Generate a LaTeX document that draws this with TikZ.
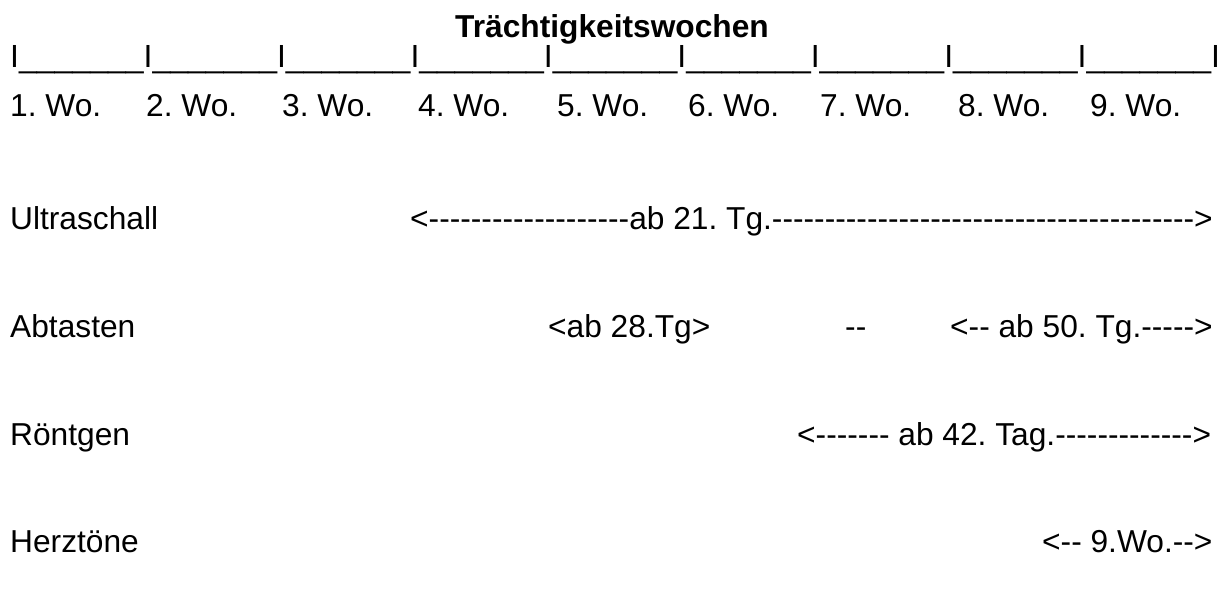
\documentclass[tikz,border=0pt]{standalone}
\usepackage{fontspec}
\setmainfont{Liberation Sans}
\begin{document}
\frenchspacing
\begin{tikzpicture}[x=1pt,y=-1pt,
  txt/.style={inner sep=0pt,anchor=base west,font=\fontsize{31.7}{38}\selectfont},
  ttl/.style={inner sep=0pt,anchor=base,font=\fontsize{31.7}{38}\selectfont\bfseries}]
\useasboundingbox (0,0) rectangle (1224,601);
% title
\node[ttl] (title) at (612,38) {Trächtigkeitswochen};
% week scale
\node[txt,font=\fontsize{32}{38}\selectfont] (scale) at (10,68) {I\_\_\_\_\_\_\_I\_\_\_\_\_\_\_I\_\_\_\_\_\_\_I\_\_\_\_\_\_\_I\_\_\_\_\_\_\_I\_\_\_\_\_\_\_I\_\_\_\_\_\_\_I\_\_\_\_\_\_\_I\_\_\_\_\_\_\_I};
\node[txt] (w1) at (10,117) {1. Wo.};
\node[txt] (w2) at (146,117) {2. Wo.};
\node[txt] (w3) at (282,117) {3. Wo.};
\node[txt] (w4) at (418,117) {4. Wo.};
\node[txt] (w5) at (557,117) {5. Wo.};
\node[txt] (w6) at (688,117) {6. Wo.};
\node[txt] (w7) at (820,117) {7. Wo.};
\node[txt] (w8) at (958,117) {8. Wo.};
\node[txt] (w9) at (1090,117) {9. Wo.};
% methods
\node[txt] (us) at (10,230) {Ultraschall};
\node[txt] (usr) at (410,230) {<-{}-{}-{}-{}-{}-{}-{}-{}-{}-{}-{}-{}-{}-{}-{}-{}-{}-{}-ab 21. Tg.-{}-{}-{}-{}-{}-{}-{}-{}-{}-{}-{}-{}-{}-{}-{}-{}-{}-{}-{}-{}-{}-{}-{}-{}-{}-{}-{}-{}-{}-{}-{}-{}-{}-{}-{}-{}-{}-{}-{}->};
\node[txt] (ab) at (10,338) {Abtasten};
\node[txt] (ab1) at (548,338) {<ab 28.Tg>};
\node[txt] (ab2) at (845,338) {-{}-};
\node[txt] (ab3) at (950,338) {<-{}- ab 50. Tg.-{}-{}-{}-{}->};
\node[txt] (ro) at (10,446) {Röntgen};
\node[txt] (ro1) at (797,446) {<-{}-{}-{}-{}-{}-{}- ab 42. Tag.-{}-{}-{}-{}-{}-{}-{}-{}-{}-{}-{}-{}->};
\node[txt] (hz) at (10,552) {Herztöne};
\node[txt] (hz1) at (1042,552) {<-{}- 9.Wo.-{}->};
\end{tikzpicture}
\end{document}
